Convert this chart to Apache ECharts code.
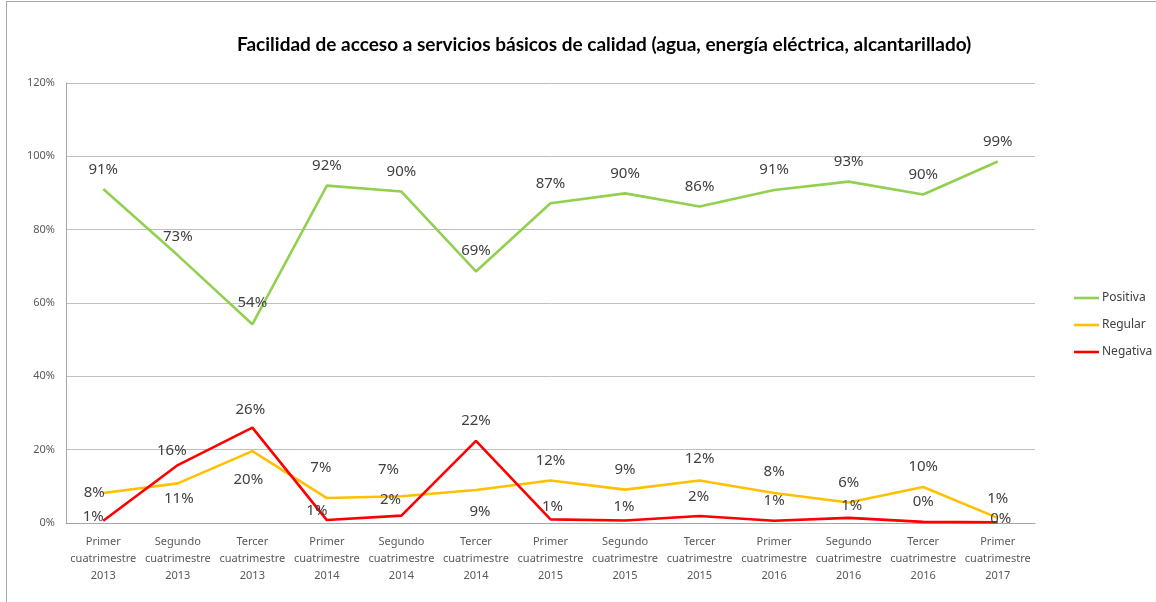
<!DOCTYPE html>
<html>
<head>
<meta charset="utf-8">
<title>Facilidad de acceso a servicios básicos</title>
<script src="https://cdn.jsdelivr.net/npm/echarts@6/dist/echarts.min.js"></script>
<style>
    html, body { margin: 0; padding: 0; background: #fff; overflow: hidden; }
    #frame { position: absolute; left: 6px; top: 1px; width: 1300px; height: 800px; border-left: 1px solid #a6a6a6; border-top: 1px solid #a6a6a6; }
    #chart { position: absolute; left: 0; top: 0; width: 1156px; height: 602px; }
</style>
</head>
<body>
<div id="frame"></div>
<div id="chart"></div>
<script>
// categorías (cuatrimestres)
const categories = [
    'Primer cuatrimestre 2013', 'Segundo cuatrimestre 2013', 'Tercer cuatrimestre 2013',
    'Primer cuatrimestre 2014', 'Segundo cuatrimestre 2014', 'Tercer cuatrimestre 2014',
    'Primer cuatrimestre 2015', 'Segundo cuatrimestre 2015', 'Tercer cuatrimestre 2015',
    'Primer cuatrimestre 2016', 'Segundo cuatrimestre 2016', 'Tercer cuatrimestre 2016',
    'Primer cuatrimestre 2017'
]
// valores en %
const positiva = [91.1, 73.0, 54.2, 92.0, 90.4, 68.6, 87.2, 89.9, 86.3, 90.8, 93.1, 89.6, 98.6]
const regular = [8.2, 10.8, 19.6, 6.8, 7.3, 9.0, 11.6, 9.1, 11.6, 8.2, 5.6, 9.8, 1.4]
const negativa = [0.6, 15.8, 26.0, 0.8, 2.0, 22.4, 1.0, 0.7, 1.9, 0.6, 1.4, 0.3, 0.2]
const yTicks = [0, 20, 40, 60, 80, 100, 120]

// desplazamiento de las etiquetas (como quedaron en el original)
const shiftPositiva = [[0, -19], [0, -19], [0, -22], [0, -20], [0, -20], [0, -21], [0, -20], [0, -20], [0, -20], [0, -20], [0, -20], [0, -20], [0, -20]]
const shiftRegular = [[-9, 0], [1, 15], [-4, 29], [-6, -30], [-13, -26], [4, 22], [0, -20], [0, -20], [0, -22], [0, -21], [0, -20], [0, -20], [0, -19]]
const shiftNegativa = [[-10, -4], [-6, -14], [-2, -18], [-10, -9], [-11, -16], [0, -20], [2, -13], [-1, -14], [-1, -19], [0, -20], [3, -12], [0, -20], [3, -4]]

const FONT = 'Noto Sans'

function buildData(values, shifts) {
    return values.map((v, i) => ({
        value: v,
        label: { offset: shifts[i] }
    }))
}

function lineSeries(name, color, values, shifts) {
    return {
        name: name,
        type: 'line',
        symbol: 'circle',
        symbolSize: 0.1,
        showAllSymbol: true,
        itemStyle: { color: color },
        lineStyle: { color: color, width: 2.6 },
        label: {
            show: true,
            position: 'inside',
            color: '#404040',
            fontFamily: FONT,
            fontSize: 15,
            formatter: p => Math.round(p.value) + '%'
        },
        emphasis: { disabled: true },
        z: 3,
        data: buildData(values, shifts)
    }
}

const chart = echarts.init(document.getElementById('chart'), null, { renderer: 'canvas' })
chart.setOption({
    animation: false,
    backgroundColor: 'transparent',
    title: {
        text: 'Facilidad de acceso a servicios básicos de calidad (agua, energía eléctrica, alcantarillado)',
        left: 232,
        top: 30,
        textStyle: {
            fontFamily: 'Lato, ' + FONT,
            fontWeight: 'bold',
            fontSize: 19,
            color: '#000'
        }
    },
    legend: {
        orient: 'vertical',
        left: 1069,
        top: 287,
        icon: 'rect',
        itemWidth: 25,
        itemHeight: 2.6,
        itemGap: 15,
        textStyle: { fontFamily: FONT, fontSize: 12, color: '#404040', padding: [0, 0, 0, -2] },
        data: ['Positiva', 'Regular', 'Negativa']
    },
    grid: {
        left: 66,
        right: 121,
        top: 83,
        bottom: 79,
        containLabel: false
    },
    xAxis: {
        type: 'category',
        data: categories,
        boundaryGap: true,
        axisLine: { show: true, lineStyle: { color: '#a6a6a6', width: 1 } },
        axisTick: { show: false },
        axisLabel: {
            interval: 0,
            margin: 10,
            fontFamily: FONT,
            fontSize: 11,
            lineHeight: 17,
            color: '#595959',
            formatter: v => v.split(' ').join('\n')
        }
    },
    yAxis: {
        type: 'value',
        min: yTicks[0],
        max: yTicks[yTicks.length - 1],
        interval: 20,
        axisLine: { show: true, lineStyle: { color: '#a6a6a6', width: 1 } },
        axisTick: { show: false },
        splitLine: { show: true, lineStyle: { color: '#bfbfbf', width: 1 } },
        axisLabel: {
            margin: 11,
            fontFamily: FONT,
            fontSize: 11,
            color: '#595959',
            formatter: v => v + '%'
        }
    },
    series: [
        lineSeries('Positiva', '#92d050', positiva, shiftPositiva),
        lineSeries('Regular', '#ffc000', regular, shiftRegular),
        lineSeries('Negativa', '#ff0000', negativa, shiftNegativa)
    ]
})
</script>
</body>
</html>
